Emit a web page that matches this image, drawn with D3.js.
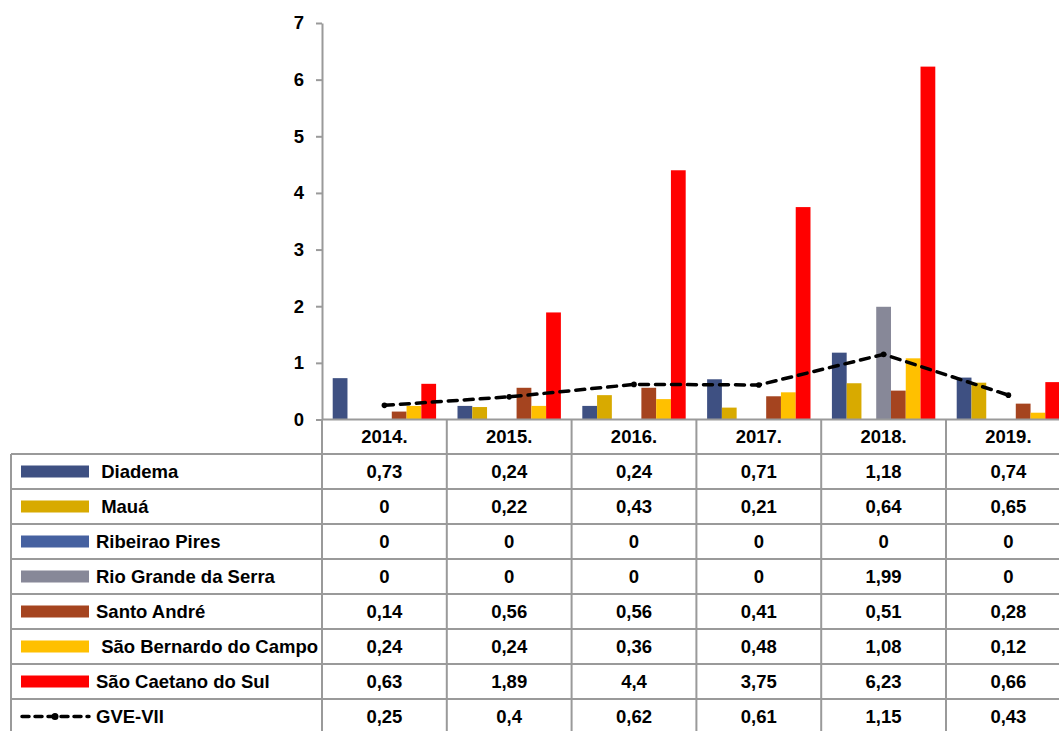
<!DOCTYPE html>
<html>
<head>
<meta charset="utf-8">
<script src="https://cdn.jsdelivr.net/npm/d3@7"></script>
<style>
  html, body { margin: 0; padding: 0; background: #fff; }
  svg text { font-family: "Liberation Sans", Arial, sans-serif; font-weight: bold; fill: #000; }
</style>
</head>
<body>
<svg id="chart" width="1059" height="731"></svg>
<script>
// Years along the category axis
const categories = ["2014.", "2015.", "2016.", "2017.", "2018.", "2019."];

// Bar series, one value per year
const seriesNames = ["Diadema", "Mauá", "Ribeirao Pires", "Rio Grande da Serra",
                     "Santo André", "São Bernardo do Campo", "São Caetano do Sul"];
const legendLabels = [" Diadema", " Mauá", "Ribeirao Pires", "Rio Grande da Serra",
                      "Santo André", " São Bernardo do Campo", "São Caetano do Sul", "GVE-VII"];
const diadema        = [0.73, 0.24, 0.24, 0.71, 1.18, 0.74];
const maua           = [0, 0.22, 0.43, 0.21, 0.64, 0.65];
const ribeiraoPires  = [0, 0, 0, 0, 0, 0];
const rioGrande      = [0, 0, 0, 0, 1.99, 0];
const santoAndre     = [0.14, 0.56, 0.56, 0.41, 0.51, 0.28];
const saoBernardo    = [0.24, 0.24, 0.36, 0.48, 1.08, 0.12];
const saoCaetano     = [0.63, 1.89, 4.4, 3.75, 6.23, 0.66];
// Line series
const gve = [0.25, 0.4, 0.62, 0.61, 1.15, 0.43];

const yTicks = [0, 1, 2, 3, 4, 5, 6, 7];
const colors = ["#3E5082", "#D8AA00", "#4661A0", "#878898", "#A5441F", "#FFC000", "#FF0000"];

const barSeries = [diadema, maua, ribeiraoPires, rioGrande, santoAndre, saoBernardo, saoCaetano];
const tableRows = [...barSeries, gve];

const svg = d3.select("#chart");
const gridColor = "#9A9A9A";

// Geometry
const plotLeft = 322, colW = 124.8, plotTop = 23, baseY = 419.5;
const rowH = 35, headerBottom = 454, tableLeft = 11;

const x = d3.scaleBand().domain(categories)
  .range([plotLeft, plotLeft + colW * categories.length]).padding(0);
const xInner = d3.scaleBand().domain(seriesNames)
  .range([0, x.bandwidth()]).paddingInner(0).paddingOuter(0.725);
const y = d3.scaleLinear().domain([0, 7]).range([baseY, plotTop]);

// Bars
const groups = svg.append("g").selectAll("g")
  .data(categories).join("g")
  .attr("transform", d => `translate(${x(d)},0)`);
groups.selectAll("rect")
  .data((c, ci) => seriesNames.map((s, si) => ({ s, si, v: barSeries[si][ci] })))
  .join("rect")
  .filter(d => d.v > 0)
  .attr("x", d => xInner(d.s))
  .attr("width", xInner.bandwidth())
  .attr("y", d => y(d.v))
  .attr("height", d => y(0) - y(d.v))
  .attr("fill", d => colors[d.si]);

// GVE-VII dashed line
const line = d3.line()
  .x((d, i) => x(categories[i]) + x.bandwidth() / 2)
  .y(d => y(d));
svg.append("path")
  .datum(gve)
  .attr("d", line)
  .attr("fill", "none")
  .attr("stroke", "#000")
  .attr("stroke-width", 3.5)
  .attr("stroke-linecap", "round")
  .attr("stroke-dasharray", "9,7");
svg.append("g").selectAll("circle")
  .data(gve).join("circle")
  .attr("cx", (d, i) => x(categories[i]) + x.bandwidth() / 2)
  .attr("cy", d => y(d))
  .attr("r", 2.8)
  .attr("fill", "#000");

// Value axis
const yAxis = svg.append("g")
  .attr("transform", `translate(${plotLeft},0)`)
  .call(d3.axisLeft(y).tickValues(yTicks).tickFormat(d3.format("d"))
    .tickSize(6).tickSizeOuter(0).tickPadding(12));
yAxis.select(".domain").attr("stroke", gridColor).attr("stroke-width", 2);
yAxis.selectAll(".tick line").attr("stroke", gridColor).attr("stroke-width", 2);
yAxis.selectAll(".tick text").attr("font-size", 18.5)
  .attr("font-family", "Liberation Sans, Arial, sans-serif").attr("font-weight", "bold");

// Data table
const table = svg.append("g");
const nRows = tableRows.length;
const tableBottom = headerBottom + rowH * nRows;
const rightEdge = plotLeft + colW * categories.length;

// horizontal rules
table.append("line").attr("x1", plotLeft).attr("x2", rightEdge)
  .attr("y1", baseY).attr("y2", baseY);
for (let r = 0; r <= nRows; r++) {
  const yy = headerBottom + r * rowH;
  table.append("line").attr("x1", tableLeft).attr("x2", rightEdge)
    .attr("y1", yy).attr("y2", yy);
}
// vertical rules
table.append("line").attr("x1", tableLeft).attr("x2", tableLeft)
  .attr("y1", headerBottom).attr("y2", tableBottom);
categories.forEach(c => {
  table.append("line").attr("x1", x(c)).attr("x2", x(c))
    .attr("y1", baseY).attr("y2", tableBottom);
});
table.append("line").attr("x1", rightEdge).attr("x2", rightEdge)
  .attr("y1", baseY).attr("y2", tableBottom);
table.selectAll("line").attr("stroke", gridColor).attr("stroke-width", 2);

// header labels
table.selectAll("text.year").data(categories).join("text")
  .attr("class", "year")
  .attr("x", d => x(d) + x.bandwidth() / 2)
  .attr("y", (baseY + headerBottom) / 2)
  .attr("dy", "0.35em")
  .attr("text-anchor", "middle")
  .attr("font-size", 18.5)
  .text(d => d);

// value cells
const fmt = v => String(v).replace(".", ",");
tableRows.forEach((vals, r) => {
  const cy = headerBottom + r * rowH + rowH / 2;
  table.append("g").selectAll("text").data(vals).join("text")
    .attr("x", (d, i) => x(categories[i]) + x.bandwidth() / 2)
    .attr("y", cy)
    .attr("dy", "0.35em")
    .attr("text-anchor", "middle")
    .attr("font-size", 18.5)
    .text(d => fmt(d));

  // legend key
  if (r < barSeries.length) {
    table.append("rect")
      .attr("x", 21).attr("y", cy - 6)
      .attr("width", 68).attr("height", 12)
      .attr("fill", colors[r]);
  } else {
    table.append("line")
      .attr("x1", 22).attr("x2", 89).attr("y1", cy).attr("y2", cy)
      .attr("stroke", "#000").attr("stroke-width", 3.5)
      .attr("stroke-linecap", "round")
      .attr("stroke-dasharray", "7,6");
    table.append("circle").attr("cx", 55).attr("cy", cy).attr("r", 3.5).attr("fill", "#000");
  }
  table.append("text")
    .attr("x", 96)
    .attr("y", cy)
    .attr("dy", "0.35em")
    .attr("font-size", 18.5)
    .style("white-space", "pre")
    .text(legendLabels[r]);
});
</script>
</body>
</html>
